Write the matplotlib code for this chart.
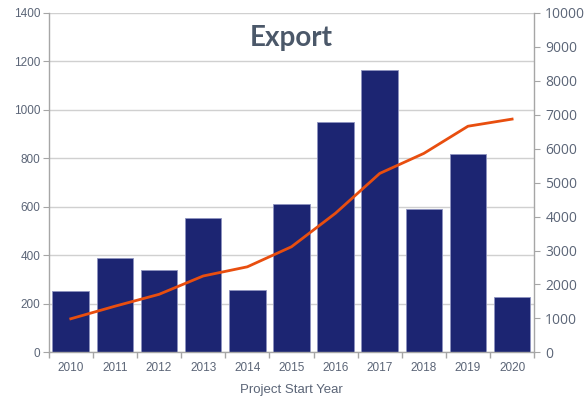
import matplotlib.pyplot as plt
import numpy as np

years = ["2010", "2011", "2012", "2013", "2014", "2015", "2016", "2017", "2018", "2019", "2020"]
projects = [253, 389, 339, 556, 257, 611, 948, 1166, 593, 816, 227]
cumulative = [990, 1360, 1710, 2250, 2520, 3110, 4100, 5270, 5860, 6660, 6870]

bar_color = "#1c2572"
line_color = "#e84e0f"
text_color = "#5b6577"
axis_gray = "#a6a6a6"

plt.rcParams["font.family"] = ["Liberation Sans", "DejaVu Sans"]

fig = plt.figure(figsize=(5.87, 4.0), dpi=100)
ax = fig.add_axes([0.083, 0.119, 0.827, 0.849])
x = np.arange(len(years))

ax.bar(x, projects, width=0.83, color=bar_color, edgecolor="#8e93c0", linewidth=0.6, zorder=2)
ax.set_xlim(-0.5, len(years) - 0.5)
ax.set_ylim(0, 1400)
ax.set_yticks(np.arange(0, 1401, 200))
ax.grid(axis="y", color="#d0d0d0", linewidth=1.0, zorder=0)

# category labels in the middle, tick marks on the boundaries
ax.set_xticks(x)
ax.set_xticklabels(years)
ax.tick_params(axis="x", length=0, labelsize=8.5, labelcolor=text_color, pad=7)
ax.set_xticks(np.arange(-0.5, len(years)), minor=True)
ax.tick_params(axis="x", which="minor", length=4, color=axis_gray, width=1)
ax.tick_params(axis="y", length=4, color=axis_gray, labelsize=8.5, labelcolor=text_color, pad=2)

for s in ["top", "right"]:
    ax.spines[s].set_visible(False)
for s in ["left", "bottom"]:
    ax.spines[s].set_color(axis_gray)
    ax.spines[s].set_linewidth(1)

ax.set_xlabel("Project Start Year", fontsize=9.5, color=text_color, labelpad=7)

ax2 = ax.twinx()
ax2.plot(x, cumulative, color=line_color, linewidth=2.0, zorder=3)
ax2.set_ylim(0, 10000)
ax2.set_yticks(np.arange(0, 10001, 1000))
ax2.tick_params(axis="y", length=4, color=axis_gray, labelsize=10, labelcolor=text_color, pad=4)
for lbl in ax2.get_yticklabels():
    lbl.set_fontfamily(["Open Sans", "DejaVu Sans"])
for s in ["top", "left", "bottom"]:
    ax2.spines[s].set_visible(False)
ax2.spines["right"].set_color(axis_gray)
ax2.spines["right"].set_linewidth(1)

ax.text(0.5, 0.925, "Export", transform=ax.transAxes, ha="center", va="center",
        fontsize=20, fontweight="bold", color="#4b5869", family=["Lato", "DejaVu Sans"])

fig.savefig("out.png", dpi=100)
